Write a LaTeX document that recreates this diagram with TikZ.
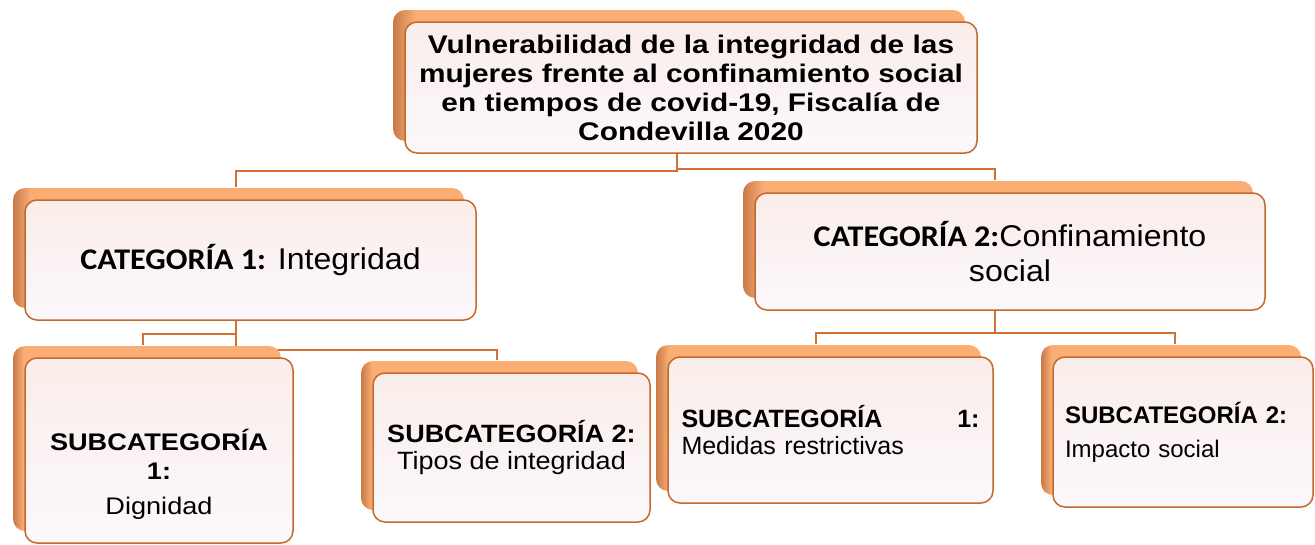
\documentclass[tikz,border=0pt]{standalone}
\usepackage{fontspec}
\setmainfont{Liberation Sans}
\newfontfamily\titlefont[FakeStretch=1.17]{Liberation Sans}
\newfontfamily\catfont[FakeStretch=1.07]{Liberation Sans}
\newfontfamily\calibri[FakeStretch=1.07]{Carlito}
\newfontfamily\subfontA[FakeStretch=1.13]{Liberation Sans}
\newfontfamily\subfontB[FakeStretch=1.08]{Liberation Sans}
\usetikzlibrary{calc,shadows,backgrounds}
\definecolor{boxline}{RGB}{197,104,44}
\definecolor{linkline}{RGB}{208,112,50}
\definecolor{boxtop}{RGB}{250,237,233}
\definecolor{boxbot}{RGB}{251,248,252}
\definecolor{shdlight}{RGB}{250,174,116}
\definecolor{shddark}{RGB}{200,122,74}
\pgfdeclarehorizontalshading{shdshade}{100bp}{color(0bp)=(shddark); color(25bp)=(shddark); color(27bp)=(shdlight); color(100bp)=(shdlight)}

\begin{document}
\begin{tikzpicture}[x=1pt, y=-1pt,
  box/.style = {draw=boxline, line width=1.5pt, rounded corners=12pt, top color=boxtop, bottom color=boxbot, align=center, inner sep=0pt,
    general shadow={shadow xshift=-12pt, shadow yshift=12pt, shade, shading=shdshade, draw=none}},
  link/.style = {draw=linkline, line width=2pt}]
  \useasboundingbox (0,0) rectangle (1315,544);
  % title
  \node[box, minimum width=572pt, minimum height=131pt, font=\titlefont\bfseries\fontsize{25.5}{29}\selectfont] (top) at (691,87.5)
    {Vulnerabilidad de la integridad de las\\mujeres frente al confinamiento social\\en tiempos de covid-19, Fiscalía de\\Condevilla 2020};
  % categories
  \node[box, minimum width=451pt, minimum height=120pt, font=\catfont\fontsize{30}{34}\selectfont] (c1) at (250.5,260)
    {{\calibri\bfseries CATEGORÍA 1:} Integridad};
  \node[box, minimum width=510pt, minimum height=117pt, font=\catfont\fontsize{30}{35}\selectfont] (c2) at (1010,251.5)
    {{\calibri\bfseries CATEGORÍA 2:}Confinamiento\\social};
  % subcategories
  \node[box, minimum width=268pt, minimum height=185pt] (s1) at (159,450.5) {};
  \node[align=center, font=\subfontA\fontsize{24}{29}\selectfont] (s1txt) at (159,474)
    {\textbf{SUBCATEGORÍA}\\\textbf{1:}\\[6pt]Dignidad};
  \node[box, minimum width=277pt, minimum height=149pt, font=\subfontB\fontsize{25}{27}\selectfont] (s2) at (511.5,447.5)
    {\textbf{SUBCATEGORÍA 2:}\\Tipos de integridad};
  \node[box, align=left, text width=298pt, minimum width=325pt, minimum height=146pt, font=\fontsize{25}{27}\selectfont] (s3) at (830.5,430)
    {\textbf{SUBCATEGORÍA}\hfill\textbf{1:}\\Medidas restrictivas};
  \node[box, align=left, text width=236pt, minimum width=260pt, minimum height=150pt, font=\fontsize{24}{26}\selectfont] (s4) at (1183,432)
    {\textbf{SUBCATEGORÍA 2:}\\[8pt]Impacto social};
  % connectors
  \begin{pgfonlayer}{background}
    \draw[link] ($(top.south)+(-14,0)$) -- ++(0,17) -| ($(c1.north)+(-15,-12)$);
    \draw[link] ($(top.south)+(-14,0)$) -- ++(0,15) -| ($(c2.north)+(-15,-12)$);
    \draw[link] ($(c1.south)+(-15,0)$) -- ++(0,13) -| ($(s1.north)+(-16,-12)$);
    \draw[link] ($(c1.south)+(-15,0)$) -- ++(0,29) -| ($(s2.north)+(-15,-12)$);
    \draw[link] ($(c2.south)+(-15,0)$) -- ++(0,22) -| ($(s3.north)+(-15,-12)$);
    \draw[link] ($(c2.south)+(-15,0)$) -- ++(0,22) -| ($(s4.north)+(-8,-12)$);
  \end{pgfonlayer}
\end{tikzpicture}
\end{document}
